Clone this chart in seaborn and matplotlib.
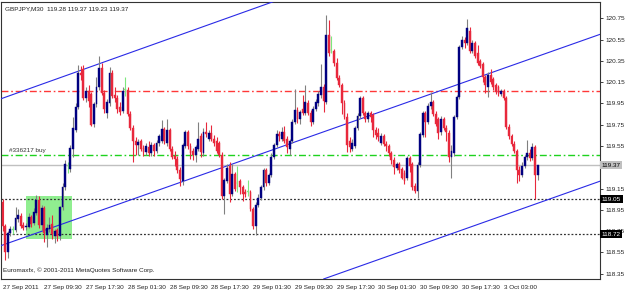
"""GBPJPY M30 candlestick chart with channel lines and order levels (MetaTrader style)."""
import matplotlib
matplotlib.use("Agg")
import matplotlib.pyplot as plt
import matplotlib.transforms as mtransforms
import pandas as pd
import seaborn as sns

# ---- data ----
opens = [119.02, 118.80, 118.55, 118.73, 118.76, 118.76, 118.86, 118.89, 118.81, 118.79,
         118.79, 118.88, 118.83, 118.92, 119.04, 118.81, 118.97, 118.71, 118.77, 118.82,
         118.70, 118.76, 118.70, 118.98, 119.16, 119.36, 119.33, 119.52, 119.70, 119.92,
         120.24, 120.27, 120.00, 120.07, 120.04, 119.76, 119.94, 120.10, 120.28, 120.05,
         119.86, 119.95, 120.24, 120.03, 120.00, 119.92, 119.88, 120.08, 120.08, 119.85,
         119.72, 119.60, 119.56, 119.60, 119.53, 119.49, 119.54, 119.48, 119.56, 119.50,
         119.58, 119.60, 119.71, 119.58, 119.70, 119.52, 119.46, 119.43, 119.32, 119.22,
         119.55, 119.68, 119.55, 119.50, 119.47, 119.52, 119.64, 119.48, 119.68, 119.62,
         119.67, 119.62, 119.60, 119.58, 119.47, 119.08, 119.22, 119.36, 119.10, 119.29,
         119.20, 119.22, 119.16, 119.12, 119.12, 119.12, 118.96, 118.80, 119.00, 119.06,
         119.16, 119.32, 119.20, 119.28, 119.45, 119.56, 119.66, 119.62, 119.68, 119.62,
         119.52, 119.60, 119.78, 119.89, 119.80, 119.90, 119.86, 119.95, 119.86, 119.78,
         119.90, 119.95, 120.03, 120.10, 119.96, 120.59, 120.45, 120.44, 120.33, 120.19,
         120.12, 119.95, 119.82, 119.60, 119.52, 119.55, 119.72, 119.83, 120.00, 119.86,
         119.80, 119.86, 119.84, 119.70, 119.67, 119.58, 119.64, 119.57, 119.55, 119.48,
         119.42, 119.34, 119.38, 119.33, 119.30, 119.25, 119.44, 119.38, 119.17, 119.13,
         119.37, 119.65, 119.86, 119.78, 119.93, 119.96, 119.85, 119.80, 119.68, 119.80,
         119.72, 119.67, 119.45, 119.48, 119.82, 120.01, 120.48, 120.55, 120.52, 120.63,
         120.44, 120.52, 120.42, 120.35, 120.32, 120.20, 120.10, 120.22, 120.18, 120.12,
         120.10, 120.04, 120.07, 120.00, 119.73, 119.64, 119.57, 119.50, 119.32, 119.28,
         119.36, 119.45, 119.48, 119.44, 119.54, 119.28]
highs = [119.05, 118.82, 118.75, 118.80, 118.80, 118.98, 118.96, 118.92, 118.84, 118.83,
         118.92, 118.90, 118.97, 119.09, 119.08, 119.00, 118.99, 118.82, 118.88, 118.90,
         118.77, 118.78, 118.99, 119.20, 119.42, 119.40, 119.56, 119.82, 119.95, 120.31,
         120.30, 120.31, 120.10, 120.12, 120.06, 119.96, 120.20, 120.40, 120.33, 120.08,
         119.99, 120.29, 120.26, 120.10, 120.03, 119.96, 120.10, 120.20, 120.10, 119.88,
         119.75, 119.63, 119.62, 119.62, 119.56, 119.58, 119.60, 119.59, 119.58, 119.61,
         119.66, 119.79, 119.73, 119.80, 119.72, 119.55, 119.50, 119.46, 119.35, 119.58,
         119.70, 119.70, 119.58, 119.53, 119.56, 119.78, 119.67, 119.72, 119.78, 119.70,
         119.75, 119.65, 119.63, 119.60, 119.49, 119.25, 119.38, 119.40, 119.38, 119.31,
         119.36, 119.24, 119.18, 119.15, 119.23, 119.14, 118.98, 119.02, 119.10, 119.18,
         119.34, 119.34, 119.30, 119.48, 119.58, 119.70, 119.69, 119.73, 119.74, 119.64,
         119.62, 119.80, 120.09, 119.92, 119.89, 120.03, 120.12, 119.98, 119.89, 119.93,
         119.99, 120.07, 120.32, 120.13, 120.78, 120.73, 120.58, 120.46, 120.38, 120.22,
         120.14, 119.98, 119.86, 119.63, 119.62, 119.74, 119.86, 120.02, 120.02, 119.88,
         119.88, 119.88, 119.86, 119.73, 119.72, 119.67, 119.66, 119.60, 119.57, 119.50,
         119.45, 119.40, 119.40, 119.35, 119.32, 119.46, 119.46, 119.40, 119.20, 119.40,
         119.68, 119.88, 119.88, 119.95, 120.06, 119.98, 119.88, 119.82, 119.83, 119.82,
         119.75, 119.70, 119.56, 119.84, 120.03, 120.50, 120.58, 120.57, 120.74, 120.67,
         120.55, 120.54, 120.50, 120.37, 120.34, 120.22, 120.25, 120.27, 120.20, 120.14,
         120.12, 120.09, 120.09, 120.02, 119.76, 119.66, 119.60, 119.52, 119.36, 119.40,
         119.47, 119.61, 119.52, 119.58, 119.56, 119.37]
lows = [118.75, 118.48, 118.50, 118.70, 118.72, 118.74, 118.84, 118.78, 118.76, 118.76,
        118.78, 118.79, 118.81, 118.90, 118.78, 118.76, 118.65, 118.60, 118.74, 118.68,
        118.64, 118.66, 118.67, 118.95, 119.14, 119.30, 119.31, 119.45, 119.68, 119.90,
        120.17, 119.98, 119.96, 119.92, 119.74, 119.73, 119.92, 120.08, 120.03, 119.86,
        119.81, 119.93, 120.00, 119.96, 119.86, 119.84, 119.86, 120.02, 119.83, 119.70,
        119.40, 119.47, 119.47, 119.50, 119.46, 119.47, 119.46, 119.46, 119.46, 119.48,
        119.55, 119.58, 119.57, 119.55, 119.50, 119.43, 119.36, 119.30, 119.17, 119.18,
        119.53, 119.52, 119.43, 119.42, 119.40, 119.50, 119.45, 119.46, 119.63, 119.60,
        119.60, 119.55, 119.48, 119.45, 119.05, 118.91, 119.20, 119.02, 119.08, 119.13,
        119.12, 119.10, 119.03, 119.07, 119.08, 118.94, 118.77, 118.71, 118.98, 119.04,
        119.14, 119.17, 119.18, 119.26, 119.43, 119.54, 119.60, 119.60, 119.58, 119.48,
        119.47, 119.58, 119.76, 119.77, 119.76, 119.84, 119.84, 119.84, 119.74, 119.76,
        119.88, 119.93, 120.00, 119.87, 119.94, 120.40, 120.42, 120.30, 120.17, 120.10,
        119.85, 119.80, 119.49, 119.49, 119.50, 119.53, 119.70, 119.81, 119.84, 119.78,
        119.78, 119.78, 119.63, 119.62, 119.60, 119.56, 119.55, 119.50, 119.46, 119.38,
        119.29, 119.32, 119.30, 119.24, 119.19, 119.23, 119.31, 119.14, 119.11, 119.06,
        119.35, 119.63, 119.63, 119.76, 119.90, 119.83, 119.74, 119.62, 119.65, 119.70,
        119.60, 119.40, 119.25, 119.46, 119.80, 119.99, 120.46, 120.47, 120.50, 120.42,
        120.42, 120.38, 120.31, 120.28, 120.15, 120.05, 120.01, 120.13, 120.08, 120.04,
        120.02, 120.02, 119.98, 119.71, 119.62, 119.55, 119.48, 119.20, 119.22, 119.26,
        119.34, 119.42, 119.41, 119.42, 119.05, 119.23]
closes = [118.80, 118.55, 118.73, 118.77, 118.76, 118.87, 118.90, 118.80, 118.78, 118.80,
          118.88, 118.82, 118.93, 119.04, 118.81, 118.97, 118.73, 118.78, 118.81, 118.72,
          118.75, 118.70, 118.98, 119.16, 119.38, 119.36, 119.53, 119.72, 119.92, 120.24,
          120.22, 120.00, 120.07, 119.97, 119.75, 119.94, 120.10, 120.28, 120.05, 119.90,
          119.96, 120.24, 120.02, 120.00, 119.90, 119.87, 120.07, 120.08, 119.85, 119.72,
          119.60, 119.56, 119.59, 119.52, 119.49, 119.55, 119.48, 119.56, 119.50, 119.58,
          119.64, 119.71, 119.60, 119.70, 119.52, 119.45, 119.43, 119.32, 119.24, 119.56,
          119.68, 119.55, 119.48, 119.47, 119.54, 119.62, 119.49, 119.68, 119.66, 119.67,
          119.62, 119.58, 119.50, 119.47, 119.08, 119.23, 119.34, 119.10, 119.29, 119.15,
          119.20, 119.16, 119.10, 119.10, 119.12, 118.96, 118.80, 119.00, 119.06, 119.16,
          119.32, 119.20, 119.28, 119.45, 119.56, 119.66, 119.64, 119.68, 119.60, 119.54,
          119.60, 119.78, 119.89, 119.80, 119.87, 119.86, 119.96, 119.86, 119.78, 119.90,
          119.96, 120.04, 120.10, 119.97, 120.59, 120.42, 120.45, 120.33, 120.19, 120.12,
          119.95, 119.82, 119.56, 119.54, 119.58, 119.72, 119.83, 120.00, 119.86, 119.80,
          119.86, 119.82, 119.70, 119.65, 119.63, 119.64, 119.57, 119.55, 119.48, 119.42,
          119.35, 119.38, 119.32, 119.25, 119.22, 119.44, 119.36, 119.16, 119.13, 119.37,
          119.66, 119.86, 119.78, 119.93, 119.96, 119.85, 119.76, 119.67, 119.80, 119.72,
          119.68, 119.45, 119.50, 119.82, 120.01, 120.48, 120.55, 120.52, 120.66, 120.44,
          120.52, 120.40, 120.33, 120.30, 120.20, 120.12, 120.22, 120.15, 120.10, 120.06,
          120.05, 120.07, 120.00, 119.73, 119.64, 119.57, 119.50, 119.32, 119.28, 119.36,
          119.45, 119.48, 119.44, 119.54, 119.28, 119.37]

tick_bars = [0, 16, 32, 48, 64, 80, 96, 112, 128, 144, 160, 176, 192]
tick_labels = ["27 Sep 2011", "27 Sep 09:30", "27 Sep 17:30", "28 Sep 01:30", "28 Sep 09:30",
               "28 Sep 17:30", "29 Sep 01:30", "29 Sep 09:30", "29 Sep 17:30", "30 Sep 01:30",
               "30 Sep 09:30", "30 Sep 17:30", "3 Oct 03:00"]
# 119.35 sits under the bid box, so only its tick mark shows
price_ticks = [120.75, 120.55, 120.35, 120.15, 119.95, 119.75, 119.55, 119.35,
               119.15, 118.95, 118.75, 118.55, 118.35]
price_labels = ["120.75", "120.55", "120.35", "120.15", "119.95", "119.75", "119.55", "",
                "119.15", "118.95", "118.75", "118.55", "118.35"]

# trend channel anchors (bar index, price)
upper_bars, upper_prices = [-1, 103], [119.99, 120.90]
middle_bars, middle_prices = [-1, 229], [118.61, 120.60]
lower_bars, lower_prices = [123, 229], [118.30, 119.22]

# horizontal levels
resistance_level = 120.07
buy_level = 119.47
bid_level = 119.37
stop_levels = [119.05, 118.72]

# highlighted box (bar range, price range)
box_bars = [8.9, 26.7]
box_prices = [118.68, 119.08]

BULL = "#000080"
BEAR = "#e8283c"
UP_WICK = "#808080"
DOJI = "#7de87d"
FONT = ["Liberation Sans", "DejaVu Sans"]


def main() -> None:
    sns.set_theme(style="white")
    plt.rcParams["font.family"] = FONT

    df = pd.DataFrame({"open": opens, "high": highs, "low": lows, "close": closes})
    df["bar"] = range(len(df))
    df["kind"] = "bear"
    df.loc[df["close"] > df["open"], "kind"] = "bull"
    df.loc[df["close"] == df["open"], "kind"] = "doji"

    fig = plt.figure(figsize=(6.25, 2.9), dpi=100)
    ax = fig.add_axes([1 / 625, 11 / 290, 599 / 625, 277.3 / 290])
    ax.set_facecolor("white")

    # highlight box
    ax.fill_between(box_bars, box_prices[0], box_prices[1], color="#90ee90", lw=0, zorder=1)

    # horizontal levels
    ax.axhline(resistance_level, color="#ff3838", lw=1.0, dashes=(5, 2, 1.2, 2), zorder=2)
    ax.axhline(buy_level, color="#1ed21e", lw=1.0, dashes=(5, 2, 1.2, 2), zorder=2)
    ax.axhline(bid_level, color="#c0c0c0", lw=1.0, zorder=2)
    for lvl in stop_levels:
        ax.axhline(lvl, color="#303030", lw=0.9, dashes=(1.5, 1.5), zorder=2)

    # channel lines
    for bx, py in [(upper_bars, upper_prices), (middle_bars, middle_prices), (lower_bars, lower_prices)]:
        ax.axline((bx[0], py[0]), (bx[1], py[1]), color="#2a2ae6", lw=0.8, zorder=3)

    # candles
    colors = {"bull": BULL, "bear": BEAR, "doji": DOJI}
    wick_colors = {"bull": UP_WICK, "bear": BEAR, "doji": DOJI}
    for kind, part in df.groupby("kind"):
        ax.vlines(part["bar"], part["low"], part["high"], color=wick_colors[kind], lw=0.8, zorder=4)
        body = (part["close"] - part["open"]).abs().clip(lower=0.006)
        bottom = part[["open", "close"]].min(axis=1)
        ax.bar(part["bar"], body, bottom=bottom, width=0.72, color=colors[kind],
               edgecolor=colors[kind], lw=0.3, zorder=5)

    ax.set_xlim(-0.575, 228.9)
    ax.set_ylim(118.30, 120.906)

    for side in ["left", "right", "top", "bottom"]:
        ax.spines[side].set_visible(True)
        ax.spines[side].set_color("#333333")
        ax.spines[side].set_linewidth(0.8)

    ax.set_xticks(tick_bars)
    ax.set_xticklabels(tick_labels)
    ax.tick_params(axis="x", direction="out", length=3, width=0.6, pad=1, labelsize=4.6, colors="#222222")
    for lbl in ax.get_xticklabels():
        lbl.set_ha("left")

    ax.yaxis.tick_right()
    ax.set_yticks(price_ticks)
    ax.set_yticklabels(price_labels)
    ax.tick_params(axis="y", direction="out", length=2, width=0.6, pad=2, labelsize=4.6, colors="#222222")
    ax.grid(False)

    # price boxes on the right scale
    trans = mtransforms.blended_transform_factory(ax.transAxes, ax.transData)
    ax.text(1.003, bid_level, f"{bid_level:.2f}", transform=trans, ha="left", va="center",
            fontsize=4.6, color="black", clip_on=False, zorder=10,
            bbox=dict(boxstyle="square,pad=0.25", fc="#c0c0c0", ec="none"))
    for lvl in stop_levels:
        ax.text(1.003, lvl, f"{lvl:.2f}", transform=trans, ha="left", va="center",
                fontsize=4.6, color="white", clip_on=False, zorder=10,
                bbox=dict(boxstyle="square,pad=0.25", fc="black", ec="none"))

    # annotations
    ax.text(0.007, 0.985, "GBPJPY,M30  119.28 119.37 119.23 119.37", transform=ax.transAxes,
            ha="left", va="top", fontsize=4.6, color="#222222")
    ax.text(2.5, buy_level + 0.015, "#336217 buy", ha="left", va="bottom", fontsize=4.6, color="#333333")
    ax.text(0.003, 0.02, "Euromaxfx, \u00a9 2001-2011 MetaQuotes Software Corp.", transform=ax.transAxes,
            ha="left", va="bottom", fontsize=4.6, color="#222222")

    fig.savefig("out.png", dpi=100, facecolor="white")
    plt.close(fig)


if __name__ == "__main__":
    main()
